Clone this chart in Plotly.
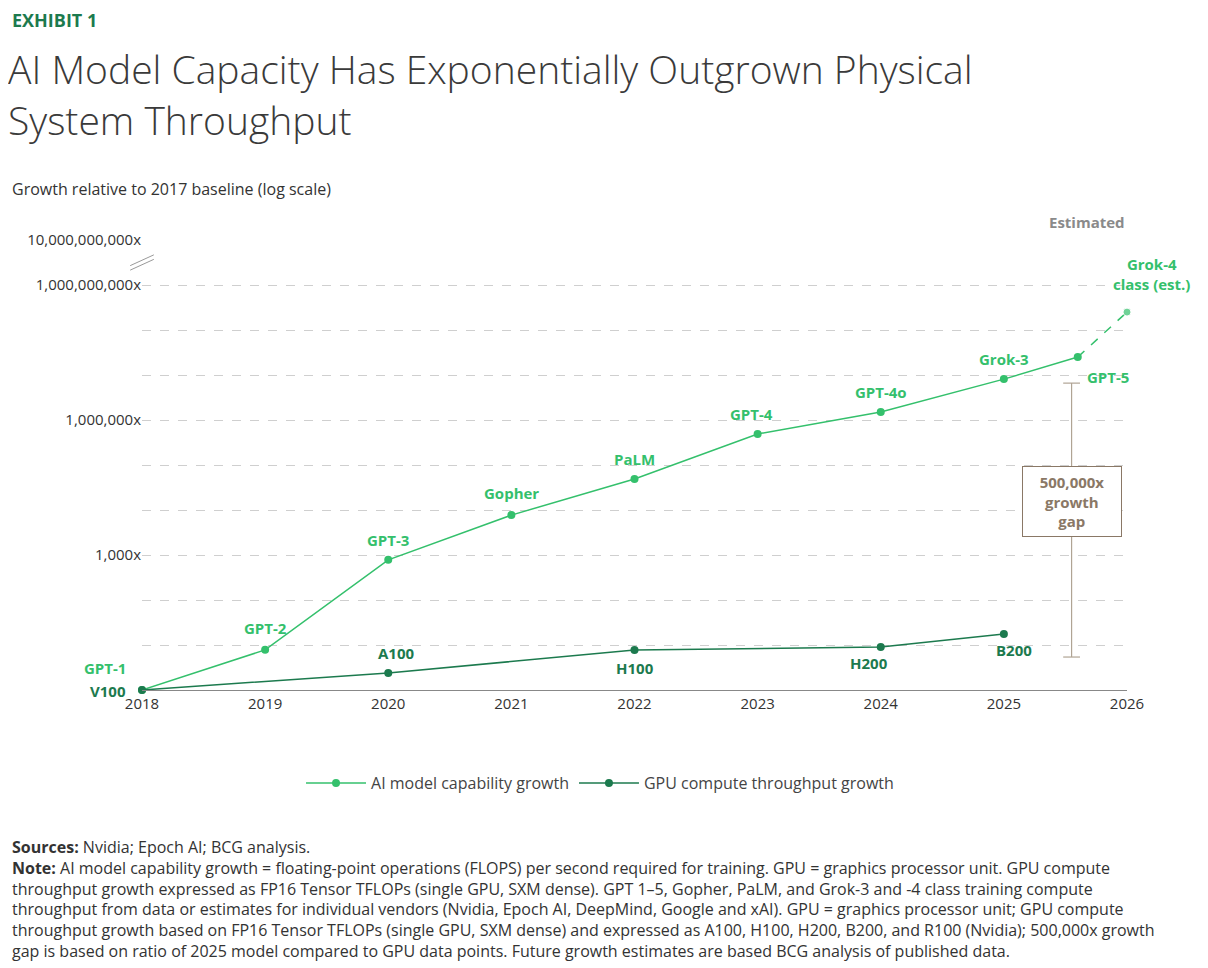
import plotly.graph_objects as go
import math

ai_x = [2018, 2019, 2020, 2021, 2022, 2023, 2024, 2025, 2025.6]
ai_y = [1, 7.8, 780, 7700, 49000, 490000, 1.5e6, 8.1e6, 2.5e7]
ai_labels = ["GPT-1", "GPT-2", "GPT-3", "Gopher", "PaLM", "GPT-4", "GPT-4o", "Grok-3", "GPT-5"]
est_x = [2025.6, 2026]
est_y = [2.5e7, 2.5e8]
gpu_x = [2018, 2020, 2022, 2024, 2025]
gpu_y = [1, 2.4, 7.7, 9, 17.5]
gpu_labels = ["V100", "A100", "H100", "H200", "B200"]
gap_x = 2025.55
gap_y = [6.6e6, 5.4]
years = [2018, 2019, 2020, 2021, 2022, 2023, 2024, 2025, 2026]

LG = "#34c06c"
DG = "#1c7a4e"
BR = "#8a7866"
FONT = "Open Sans"

fig = go.Figure()
fig.add_trace(go.Scatter(x=ai_x, y=ai_y, mode="lines+markers", name="AI model capability growth",
                         line=dict(color=LG, width=1.5), marker=dict(size=8, color=LG), cliponaxis=False))
fig.add_trace(go.Scatter(x=est_x, y=est_y, mode="lines+markers", showlegend=False,
                         line=dict(color=LG, width=1.5, dash="dash"), marker=dict(size=[0, 8], color=LG), cliponaxis=False))
fig.add_trace(go.Scatter(x=gpu_x, y=gpu_y, mode="lines+markers", name="GPU compute throughput growth",
                         line=dict(color=DG, width=1.5), marker=dict(size=8, color=DG), cliponaxis=False))
fig.add_trace(go.Scatter(x=[gap_x, gap_x], y=gap_y, mode="lines+markers", showlegend=False,
                         line=dict(color="#b0a494", width=1.2),
                         marker=dict(symbol="line-ew", size=12, line=dict(color="#b0a494", width=1.2)), cliponaxis=False))

ai_off = [(-37, 22), (0, 22), (0, 20), (0, 22), (0, 20), (-6, 20), (0, 20), (0, 20), (30, -20)]
for x, y, t, (dx, dy) in zip(ai_x, ai_y, ai_labels, ai_off):
    fig.add_annotation(x=x, y=math.log10(y), text=t, showarrow=False, xshift=dx, yshift=dy,
                       font=dict(family=FONT, size=15, color=LG, weight="bold"))
fig.add_annotation(x=est_x[1], y=math.log10(est_y[1]), text="Grok-4<br>class (est.)", showarrow=False,
                   xshift=24, yshift=38, font=dict(family=FONT, size=15, color=LG, weight="bold"))
gpu_off = [(-34, -1), (8, 20), (0, -18), (-12, -16), (10, -16)]
for x, y, t, (dx, dy) in zip(gpu_x, gpu_y, gpu_labels, gpu_off):
    fig.add_annotation(x=x, y=math.log10(y), text=t, showarrow=False, xshift=dx, yshift=dy,
                       font=dict(family=FONT, size=15, color=DG, weight="bold"))

fig.add_annotation(x=2025.55, y=4.18, text="500,000x<br>growth<br>gap", showarrow=False,
                   font=dict(family=FONT, size=15, color=BR, weight="bold"),
                   bgcolor="white", bordercolor=BR, borderwidth=1, borderpad=5, width=88)
fig.add_annotation(x=1, y=10, xref="paper", yref="y", text="Estimated", showarrow=False, xanchor="right",
                   yshift=18, font=dict(family=FONT, size=15, color="#8a8a8a", weight="bold"))

for yy in [0.955, 0.945]:
    fig.add_shape(type="line", xref="paper", yref="paper", x0=-0.012, x1=0.012, y0=yy - 0.012, y1=yy + 0.012,
                  line=dict(color="#999", width=1))

W = 985
def px(v):
    return (v - 142) / W
H = 450
def py(v):
    return (690 - v) / H

fig.add_annotation(xref="paper", yref="paper", x=px(10), y=py(6), xanchor="left", yanchor="top", showarrow=False,
                   text="EXHIBIT 1", font=dict(family=FONT, size=18, color=DG, weight="bold"))
fig.add_annotation(xref="paper", yref="paper", x=px(6), y=py(40), xanchor="left", yanchor="top", showarrow=False,
                   align="left", text="AI Model Capacity Has Exponentially Outgrown Physical<br>System Throughput",
                   font=dict(family=FONT, size=39, color="#3a3a3a", weight=300))
fig.add_annotation(xref="paper", yref="paper", x=px(10), y=py(176), xanchor="left", yanchor="top", showarrow=False,
                   text="Growth relative to 2017 baseline (log scale)", font=dict(family=FONT, size=16, color="#333"))
notes = ("<b>Sources:</b> Nvidia; Epoch AI; BCG analysis.<br>"
         "<b>Note:</b> AI model capability growth = floating-point operations (FLOPS) per second required for training. GPU = graphics processor unit. GPU compute<br>"
         "throughput growth expressed as FP16 Tensor TFLOPs (single GPU, SXM dense). GPT 1–5, Gopher, PaLM, and Grok-3 and -4 class training compute<br>"
         "throughput from data or estimates for individual vendors (Nvidia, Epoch AI, DeepMind, Google and xAI). GPU = graphics processor unit; GPU compute<br>"
         "throughput growth based on FP16 Tensor TFLOPs (single GPU, SXM dense) and expressed as A100, H100, H200, B200, and R100 (Nvidia); 500,000x growth<br>"
         "gap is based on ratio of 2025 model compared to GPU data points. Future growth estimates are based BCG analysis of published data.")
fig.add_annotation(xref="paper", yref="paper", x=px(10), y=py(834), xanchor="left", yanchor="top", showarrow=False,
                   align="left", text=notes, font=dict(family=FONT, size=16, color="#333"))

tickvals = [10 ** i for i in range(0, 11)]
ticktext = ["" for _ in tickvals]
ticktext[3] = "1,000x"; ticktext[6] = "1,000,000x"; ticktext[9] = "1,000,000,000x"; ticktext[10] = "10,000,000,000x"

fig.update_layout(
    width=1208, height=968, margin=dict(l=134, r=89, t=232, b=286),
    paper_bgcolor="white", plot_bgcolor="white",
    font=dict(family=FONT, color="#333"),
    xaxis=dict(range=[2018, 2026], tickvals=years, showgrid=False, showline=True, linecolor="#888",
               ticks="", tickfont=dict(size=15), zeroline=False),
    yaxis=dict(type="log", range=[0, 10], tickvals=tickvals, ticktext=ticktext, showgrid=True,
               gridcolor="#cfcfcf", griddash="dash", tickfont=dict(size=15), zeroline=False, ticks="", ticksuffix=" "),
    legend=dict(orientation="h", x=0.465, xanchor="center", y=-0.207, yanchor="middle",
                font=dict(size=16, color="#444"), itemwidth=60),
)
fig.write_html("out.html")
